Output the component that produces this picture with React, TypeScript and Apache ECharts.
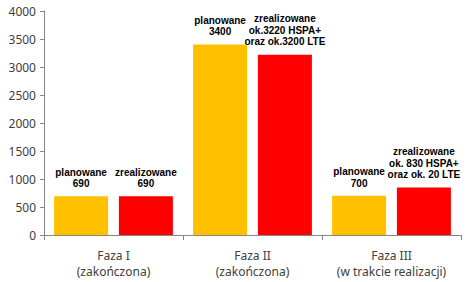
import React, { useEffect, useRef } from "react";
import * as echarts from "echarts";

const categories = ["Faza I\n(zakończona)", "Faza II\n(zakończona)", "Faza III\n(w trakcie realizacji)"];
const planned = [690, 3400, 700];
const realized = [690, 3220, 850];
const plannedLabels = ["planowane\n690", "planowane\n3400", "planowane\n700"];
const realizedLabels = [
  "zrealizowane\n690",
  "zrealizowane\nok.3220 HSPA+\noraz ok.3200 LTE",
  "zrealizowane\nok. 830 HSPA+\noraz ok. 20 LTE",
];
const yTicks = { min: 0, max: 4000, interval: 500 };

export default function App() {
  const ref = useRef<HTMLDivElement>(null);
  useEffect(() => {
    if (!ref.current) return;
    const chart = echarts.init(ref.current, null, { renderer: "svg" });
    const labelStyle = {
      show: true,
      position: "top" as const,
      distance: 7,
      fontFamily: "Liberation Sans",
      fontWeight: "bold" as const,
      fontSize: 10,
      lineHeight: 11.5,
      color: "#000",
      align: "center" as const,
    };
    chart.setOption({
      animation: false,
      grid: { left: 44, right: 12, top: 11, bottom: 47 },
      xAxis: {
        type: "category",
        data: categories,
        axisLine: { lineStyle: { color: "#868686", width: 1 } },
        axisTick: { show: true, length: 5, lineStyle: { color: "#868686" } },
        axisLabel: {
          color: "#404040",
          fontFamily: "Noto Sans",
          fontSize: 12,
          lineHeight: 16,
          margin: 12,
          interval: 0,
        },
      },
      yAxis: {
        type: "value",
        min: yTicks.min,
        max: yTicks.max,
        interval: yTicks.interval,
        splitLine: { show: false },
        axisLine: { show: true, lineStyle: { color: "#868686", width: 1 } },
        axisTick: { show: true, length: 4, lineStyle: { color: "#868686" } },
        axisLabel: {
          color: "#404040",
          fontFamily: "Noto Sans",
          fontSize: 12,
          margin: 8,
          formatter: (v: number) => String(v),
        },
      },
      series: [
        {
          type: "bar",
          data: planned,
          barWidth: 54,
          barGap: "20%",
          itemStyle: { color: "#FFC000" },
          label: { ...labelStyle, formatter: (p: any) => plannedLabels[p.dataIndex] },
        },
        {
          type: "bar",
          data: realized,
          barWidth: 54,
          barGap: "20%",
          itemStyle: { color: "#FF0000" },
          label: { ...labelStyle, formatter: (p: any) => realizedLabels[p.dataIndex] },
        },
      ],
    });
    return () => chart.dispose();
  }, []);
  return <div ref={ref} style={{ width: 473, height: 282, position: "absolute", left: 0, top: 0 }} />;
}
